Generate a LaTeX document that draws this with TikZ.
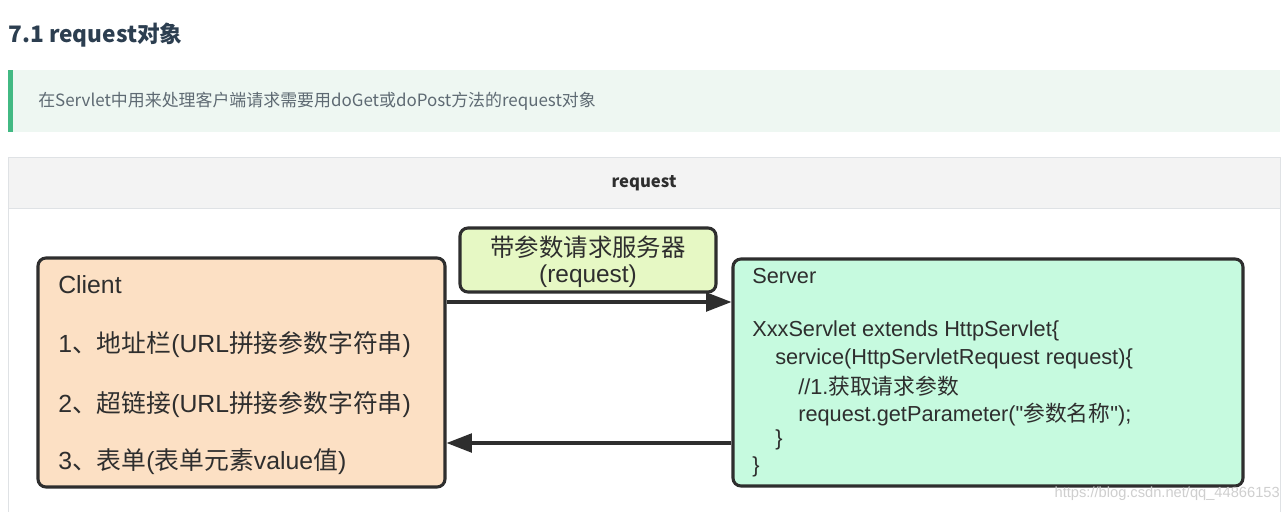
\documentclass[tikz,border=0pt]{standalone}
\usepackage{fontspec}
\setmainfont{Noto Sans CJK SC}
\newfontfamily\boxfont{Liberation Sans}
\newfontfamily\cjk{Noto Sans CJK SC}
\usetikzlibrary{arrows.meta}

\definecolor{titlecol}{HTML}{2C3E50}
\definecolor{tipbar}{HTML}{42B983}
\definecolor{tipfill}{HTML}{EEF7F2}
\definecolor{tiptext}{HTML}{5E6A73}
\definecolor{headfill}{HTML}{F3F3F3}
\definecolor{gridcol}{HTML}{DFE2E5}
\definecolor{clientfill}{HTML}{FCE0C4}
\definecolor{serverfill}{HTML}{C6FADF}
\definecolor{labelfill}{HTML}{E6F8C4}
\definecolor{inkcol}{HTML}{2E2E2E}
\definecolor{markcol}{HTML}{CFCFCF}

\newcommand{\zhs}[1]{{\cjk #1}}
\newcommand{\clientsize}{\fontsize{18.6pt}{22pt}\selectfont}
\newcommand{\serversize}{\fontsize{16.3pt}{20pt}\selectfont}

\tikzset{
	box/.style={draw=inkcol, line width=2.3pt, rounded corners=6pt, inner sep=0pt},
	boxtext/.style={anchor=west, inner sep=0pt, text=inkcol},
	link/.style={draw=inkcol, line width=2.4pt, -{Triangle[length=19pt, width=14pt]}},
}

\begin{document}
\begin{tikzpicture}[x=0.75pt, y=-0.75pt]
	\path[use as bounding box, fill=white] (0,0) rectangle (1286,512);

	% Ueberschrift
	\node[anchor=west, inner sep=0pt, text=titlecol, font=\bfseries\fontsize{17pt}{20pt}\selectfont] (title) at (8,35) {7.1 request对象};

	% Hinweisblock
	\fill[tipfill] (8,70) rectangle (1280,132);
	\fill[tipbar] (8,70) rectangle (13,132);
	\node[anchor=west, inner sep=0pt, text=tiptext, font=\fontsize{12.7pt}{15pt}\selectfont] (tip) at (38,101) {在Servlet中用来处理客户端请求需要用doGet或doPost方法的request对象};

	% Tabelle
	\filldraw[line width=0.75pt, draw=gridcol, fill=headfill] (8,157) rectangle (1280,208);
	\draw[line width=0.75pt, draw=gridcol] (8,208) -- (8,512) (1280,208) -- (1280,512);
	\node[inner sep=0pt, text=inkcol, font=\bfseries\fontsize{12.5pt}{14pt}\selectfont] (head) at (644,183) {request};

	% Kaesten
	\node[box, fill=clientfill, minimum width=305.25pt, minimum height=171.75pt] (client) at (241.5,372.5) {};
	\node[box, fill=serverfill, minimum width=382.5pt, minimum height=170.25pt] (server) at (988,372.5) {};
	\node[box, fill=labelfill, minimum width=192pt, minimum height=48pt] (label) at (588,260) {};

	% Client
	\foreach \y/\t [count=\i] in {285/Client, 345/{1\zhs{、地址栏}(URL\zhs{拼接参数字符串})}, 405/{2\zhs{、超链接}(URL\zhs{拼接参数字符串})}, 462/{3\zhs{、表单}(\zhs{表单元素}value\zhs{值})}}
		\node[boxtext, font=\boxfont\clientsize] (cl\i) at (58,\y) {\t};

	% Server
	\foreach \y/\dx/\t [count=\i] in {276/0/Server, 331/0/{XxxServlet extends HttpServlet\{}, 359/23/{service(HttpServletRequest request)\{}, 386/46/{//1.\zhs{获取请求参数}}, 415/46/{request.getParameter("\zhs{参数名称}");}, 440/23/\}, 467/0/\}}
		\node[boxtext, font=\boxfont\serversize] (sv\i) at (752+\dx,\y) {\t};

	% Beschriftung
	\node[inner sep=0pt, text=inkcol, font=\fontsize{18.3pt}{22pt}\selectfont] (lab1) at (588,247) {带参数请求服务器};
	\node[inner sep=0pt, text=inkcol, font=\boxfont\fontsize{18.3pt}{22pt}\selectfont] (lab2) at (588,276) {(request)};

	% Pfeile
	\coordinate (upper) at (0,302);
	\coordinate (lower) at (0,443);
	\draw[link] (client.east |- upper) -- (server.west |- upper);
	\draw[link] (server.west |- lower) -- (client.east |- lower);

	% Wasserzeichen
	\node[anchor=east, inner sep=0pt, text=markcol, font=\boxfont\fontsize{11pt}{13pt}\selectfont] (mark) at (1280,494) {https://blog.csdn.net/qq\_44866153};
\end{tikzpicture}
\end{document}
